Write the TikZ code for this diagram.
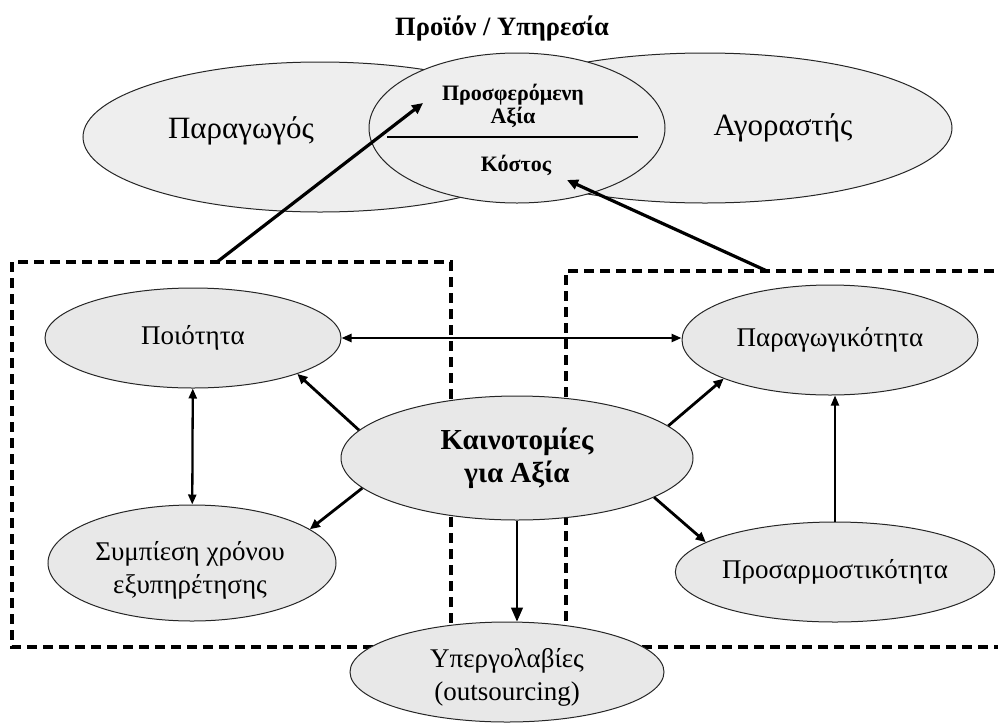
\documentclass[tikz,border=0pt]{standalone}
\usepackage{fontspec}
\setmainfont{Liberation Serif}
\usetikzlibrary{shapes.geometric,arrows.meta,calc}
\definecolor{topfill}{RGB}{238,238,238}
\definecolor{lowfill}{RGB}{232,232,232}
\tikzset{
  ell/.style={ellipse, draw=black!85, line width=1pt, fill=lowfill, inner sep=0pt, align=center},
  topell/.style={ell, fill=topfill},
  lbl/.style={font=\fontsize{27}{33}\selectfont},
  biglbl/.style={font=\fontsize{31}{36}\selectfont},
  boldlbl/.style={font=\bfseries\fontsize{29}{33}\selectfont},
  smallbold/.style={font=\bfseries\fontsize{22}{23}\selectfont, align=center},
  dbox/.style={line width=3.2pt, dash pattern=on 10pt off 6pt},
  thickarr/.style={line width=3.2pt, -{Triangle[length=11pt,width=10pt]}},
  medarr/.style={line width=2.8pt, -{Triangle[length=10pt,width=9pt]}},
  dblarr/.style={line width=2.3pt, {Triangle[length=10pt,width=8pt]}-{Triangle[length=10pt,width=8pt]}},
  thinarr/.style={line width=1.8pt, -{Triangle[length=10pt,width=8pt]}},
  yarr/.style={line width=1.3pt, -{Triangle[length=14pt,width=12pt]}}
}
\begin{document}
\begin{tikzpicture}[x=1pt,y=-1pt]
\useasboundingbox (0,0) rectangle (998,726);
% top ellipses
\node[topell, minimum width=474pt, minimum height=150pt] (prod) at (320,137) {};
\node[topell, minimum width=494pt, minimum height=150pt] (buy) at (705,128) {};
\node[topell, minimum width=296pt, minimum height=150pt] (offer) at (517,128) {};
\node[font=\bfseries\fontsize{26.5}{30}\selectfont] (title) at (502,28) {Προϊόν / Υπηρεσία};
\node[biglbl] (prodl) at (241,131) {Παραγωγός};
\node[biglbl] (buyl) at (783,128) {Αγοραστής};
\node[smallbold] (pv) at (513,106) {Προσφερόμενη\\Αξία};
\node[smallbold] (cost) at (516,165) {Κόστος};
\draw[line width=1.1pt] ($(offer.center)+(-130,9)$) -- ($(offer.center)+(121,9)$);
% dashed boxes
\draw[dbox] (12,262) rectangle (451,647);
\draw[dbox] (1010,271) -- (566,271) -- (566,647) -- (1010,647);
% lower ellipses
\node[ell, lbl, minimum width=296pt, minimum height=100pt] (poio) at (193,338) {Ποιότητα};
\node[ell, lbl, minimum width=296pt, minimum height=110pt] (parag) at (830,340) {Παραγωγικότητα};
\node[ell, minimum width=288pt, minimum height=116pt] (sump) at (192,563) {};
\node[lbl, align=center] (sumpl) at (190,570) {Συμπίεση χρόνου\\εξυπηρέτησης};
\node[ell, lbl, minimum width=286pt, minimum height=100pt] (pros) at (835,572) {Προσαρμοστικότητα};
\node[ell, boldlbl, minimum width=352pt, minimum height=124pt] (kain) at (517,458) {Καινοτομίες\\για Αξία};
\node[ell, minimum width=314pt, minimum height=100pt] (yper) at (507,672) {};
\node[lbl, align=center] (yperl) at (507,677) {Υπεργολαβίες\\(outsourcing)};
% arrows
\coordinate (la) at (217,262);
\coordinate (ta) at (423,103);
\coordinate (rb) at (767,271);
\coordinate (tb) at (567,180);
\draw[thickarr] (la) -- (ta);
\draw[thickarr] (rb) -- (tb);
\draw[medarr] (kain.170) -- (poio.341);
\draw[medarr] (kain.191) -- (sump.16);
\draw[medarr] (kain.12) -- (parag.200);
\draw[medarr] (kain.344) -- (pros.167);
\draw[dblarr] (poio.east) -- (poio.east -| parag.west);
\draw[dblarr] (poio) -- (sump);
\draw[thinarr] (pros.north) -- (pros.north |- parag.south);
\draw[yarr] (kain.south) -- (kain.south |- yper.north);
\end{tikzpicture}
\end{document}
